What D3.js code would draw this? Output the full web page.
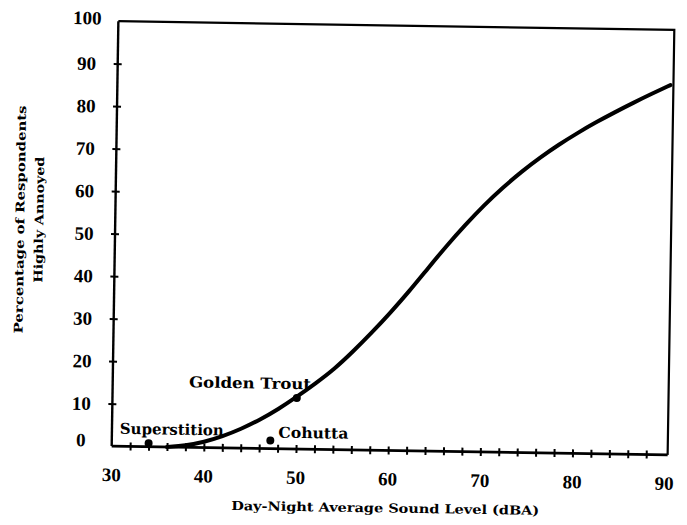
<!DOCTYPE html>
<html>
<head>
<meta charset="utf-8">
<script src="https://cdn.jsdelivr.net/npm/d3@7/dist/d3.min.js"></script>
<style>
html,body{margin:0;padding:0;background:#fff;}
svg{display:block;}
</style>
</head>
<body>
<svg id="chart" width="687" height="525"></svg>
<script>
// ---- data ----
const xTickLabels = [30, 40, 50, 60, 70, 80, 90];
const yTickLabels = [0, 10, 20, 30, 40, 50, 60, 70, 80, 90, 100];
const xMinorTicks = [32,34,36,38,40,42,44,46,48,50,52,54,56,58,60,62,64,66,68,70,72,74,76,78,80,82,84,86,88];
const yMinorTicks = [10,20,30,40,50,60,70,80,90];
const curveLdn = [36, 38, 40, 42, 44, 46, 48, 50, 52, 54, 56, 58, 60, 62, 64, 66, 68, 70, 72, 74, 76, 78, 80, 82, 84, 86, 88, 90];
const curvePct = [0, 0.4, 1.3, 2.7, 4.5, 6.7, 9.3, 12.3, 15.5, 18.9, 23.1, 27.6, 32.4, 37.5, 43.0, 48.4, 53.4, 58.1, 62.3, 66.1, 69.5, 72.6, 75.4, 78.0, 80.4, 82.7, 84.9, 87.0];
const siteNames = ["Superstition", "Cohutta", "Golden Trout"];
const siteLdn = [34, 47.2, 50];
const sitePct = [0.8, 1.9, 12];
const xTitle = "Day-Night Average Sound Level (dBA)";
const yTitle = ["Percentage of Respondents", "Highly Annoyed"];

// ---- layout ----
const L = 115, R = 668, T = 25.5, B = 450.5;
const svg = d3.select("#chart");
const g = svg.append("g")
  .attr("transform", `rotate(0.9, ${(L + R) / 2}, ${(T + B) / 2})`);

const x = d3.scaleLinear().domain([30, 90]).range([L, R]);
const y = d3.scaleLinear().domain([0, 100]).range([B, T]);

const serif = "'Liberation Serif', 'Times New Roman', serif";
const serif2 = "'DejaVu Serif', serif";

// frame (top & right)
g.append("path")
  .attr("d", `M${L},${T}H${R + 3}V${B}`)
  .attr("fill", "none").attr("stroke", "#000").attr("stroke-width", 2.2);

// axes via d3 axis
const xAxis = d3.axisBottom(x).tickValues(xMinorTicks).tickSize(8).tickFormat("");
const gx = g.append("g").attr("transform", `translate(0,${B - 4})`).call(xAxis);
gx.select(".domain").remove();
gx.selectAll(".tick line").attr("stroke", "#000").attr("stroke-width", 2);
g.append("line").attr("x1", L).attr("x2", R + 3).attr("y1", B).attr("y2", B)
  .attr("stroke", "#000").attr("stroke-width", 2.6);

const yAxis = d3.axisLeft(y).tickValues(yMinorTicks).tickSize(8).tickFormat("");
const gy = g.append("g").attr("transform", `translate(${L + 4},0)`).call(yAxis);
gy.select(".domain").remove();
gy.selectAll(".tick line").attr("stroke", "#000").attr("stroke-width", 2);
g.append("line").attr("x1", L).attr("x2", L).attr("y1", T).attr("y2", B)
  .attr("stroke", "#000").attr("stroke-width", 2.4);

// tick labels
g.append("g").selectAll("text").data(xTickLabels).join("text")
  .attr("x", d => x(d)).attr("y", B + 35)
  .attr("text-anchor", "middle")
  .attr("font-family", serif).attr("font-weight", "bold").attr("font-size", 19)
  .text(d => d);

g.append("g").selectAll("text").data(yTickLabels).join("text")
  .attr("x", L - 31)
  .attr("y", d => y(d) + (d === 0 ? -6 : d === 100 ? -3 : 0))
  .attr("dy", "0.35em")
  .attr("text-anchor", "middle")
  .attr("font-family", serif).attr("font-weight", "bold").attr("font-size", 19)
  .text(d => d);

// axis titles
g.append("text")
  .attr("x", (L + R) / 2 - 2).attr("y", B + 62)
  .attr("text-anchor", "middle")
  .attr("font-family", serif2).attr("font-weight", "bold").attr("font-size", 12.5)
  .attr("textLength", 308).attr("lengthAdjust", "spacingAndGlyphs")
  .text(xTitle);

const yt = g.append("g");
yt.append("text")
  .attr("transform", `translate(24,${y(53)}) rotate(-90)`)
  .attr("text-anchor", "middle")
  .attr("font-family", serif2).attr("font-weight", "bold").attr("font-size", 12)
  .attr("textLength", 228).attr("lengthAdjust", "spacingAndGlyphs")
  .text(yTitle[0]);
yt.append("text")
  .attr("transform", `translate(43,${y(53)}) rotate(-90)`)
  .attr("text-anchor", "middle")
  .attr("font-family", serif2).attr("font-weight", "bold").attr("font-size", 12)
  .attr("textLength", 126).attr("lengthAdjust", "spacingAndGlyphs")
  .text(yTitle[1]);

// dose-response curve
const curveData = curveLdn.map((d, i) => [d, curvePct[i]]);
const line = d3.line().x(d => x(d[0])).y(d => y(d[1])).curve(d3.curveBasis);
g.append("path").datum(curveData)
  .attr("d", line)
  .attr("fill", "none").attr("stroke", "#000").attr("stroke-width", 4)
  .attr("stroke-linecap", "round");

// sites
const sites = siteNames.map((n, i) => ({ name: n, x: siteLdn[i], y: sitePct[i] }));
const labelStyle = {
  "Superstition": { dx: -29, dy: -9, anchor: "start", len: 104 },
  "Cohutta": { dx: 8, dy: -3, anchor: "start", len: 70 },
  "Golden Trout": { dx: 14, dy: -9, anchor: "end", len: 122 }
};
g.append("g").selectAll("circle").data(sites).join("circle")
  .attr("cx", d => x(d.x)).attr("cy", d => y(d.y)).attr("r", 4)
  .attr("fill", "#000");
g.append("g").selectAll("text").data(sites).join("text")
  .attr("x", d => x(d.x) + labelStyle[d.name].dx)
  .attr("y", d => y(d.y) + labelStyle[d.name].dy)
  .attr("text-anchor", d => labelStyle[d.name].anchor)
  .attr("font-family", serif2).attr("font-weight", "bold").attr("font-size", 15)
  .attr("textLength", d => labelStyle[d.name].len).attr("lengthAdjust", "spacingAndGlyphs")
  .text(d => d.name);
</script>
</body>
</html>
